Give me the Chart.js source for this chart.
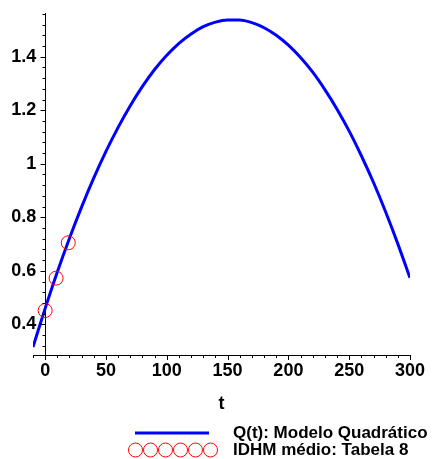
<!DOCTYPE html>
<html>
<head>
<meta charset="utf-8">
<style>
  html, body { margin: 0; padding: 0; background: #ffffff; }
  #wrap { width: 432px; height: 459px; position: relative; }
  canvas { display: block; }
</style>
<script src="https://cdn.jsdelivr.net/npm/chart.js@4.4.1/dist/chart.umd.min.js"></script>
</head>
<body>
<div id="wrap"><canvas id="chart" width="432" height="459"></canvas></div>
<script>
// Quadratic model Q(t), sampled every 10 units of t
const curveT = [-10, 0, 10, 20, 30, 40, 50, 60, 70, 80, 90, 100, 110, 120, 130, 140, 150,
                160, 170, 180, 190, 200, 210, 220, 230, 240, 250, 260, 270, 280, 290, 300];
const curveQ = [0.316, 0.460, 0.596, 0.722, 0.839, 0.947, 1.046, 1.136, 1.217, 1.289, 1.352,
                1.405, 1.450, 1.485, 1.512, 1.529, 1.537, 1.537, 1.527, 1.508, 1.480, 1.443,
                1.397, 1.342, 1.277, 1.204, 1.122, 1.030, 0.930, 0.820, 0.701, 0.574];

// Observed mean IDHM (Tabela 8)
const idhmT = [0, 9, 19];
const idhmValues = [0.452, 0.573, 0.705];

// Axis ticks
const xMajorTicks = [0, 50, 100, 150, 200, 250, 300];
const xMinorStep = 10;
const yMajorTicks = [0.4, 0.6, 0.8, 1, 1.2, 1.4];
const yMinorStep = 0.04;

const seriesLabels = ['Q(t): Modelo Quadrático', 'IDHM médio: Tabela 8'];
const xTitle = 't';

const FONT = "'Liberation Sans', Arial, Helvetica, sans-serif";
const BLUE = '#0000ff';
const RED = '#ff0000';

const isMajor = (v, list) => list.some(m => Math.abs(m - v) < 1e-6);

// Outward tick marks for both axes (long on labelled values, short otherwise)
const tickMarksPlugin = {
  id: 'tickMarks',
  afterDraw(chart) {
    const ctx = chart.ctx;
    const xs = chart.scales.x, ys = chart.scales.y;
    const axisY = xs.top;                      // x-axis line
    const axisX = xs.getPixelForValue(0);      // y-axis line
    ctx.save();
    ctx.strokeStyle = '#000000';
    ctx.lineWidth = 1;
    ctx.beginPath();
    xs.ticks.forEach(t => {
      const px = Math.round(xs.getPixelForValue(t.value)) + 0.5;
      const len = isMajor(t.value, xMajorTicks) ? 5 : 3;
      ctx.moveTo(px, axisY);
      ctx.lineTo(px, axisY + len);
    });
    ys.ticks.forEach(t => {
      const py = Math.round(ys.getPixelForValue(t.value)) + 0.5;
      const len = isMajor(t.value, yMajorTicks) ? 5 : 3;
      ctx.moveTo(Math.round(axisX) + 0.5, py);
      ctx.lineTo(Math.round(axisX) + 0.5 - len, py);
    });
    ctx.stroke();
    ctx.restore();
  }
};

// Legend drawn below the axis title: line sample / row of circles + label
const legendPlugin = {
  id: 'stackedLegend',
  afterDraw(chart) {
    const ctx = chart.ctx;
    const ds = chart.data.datasets;
    const textX = 233;
    const rows = [433, 450];
    ctx.save();
    ctx.font = 'bold 17px ' + FONT;
    ctx.textBaseline = 'middle';
    ctx.textAlign = 'left';
    ctx.fillStyle = '#000000';

    // row 1: curve sample
    ctx.strokeStyle = ds[0].borderColor;
    ctx.lineWidth = ds[0].borderWidth;
    ctx.beginPath();
    ctx.moveTo(135, rows[0]);
    ctx.lineTo(209, rows[0]);
    ctx.stroke();
    ctx.fillText(ds[0].label, textX, rows[0]);

    // row 2: chain of circle markers
    ctx.strokeStyle = ds[1].borderColor;
    ctx.lineWidth = ds[1].borderWidth;
    const r = ds[1].pointRadius;
    for (let k = 0; k < 6; k++) {
      ctx.beginPath();
      ctx.arc(135.5 + k * 15, rows[1], r, 0, Math.PI * 2);
      ctx.stroke();
    }
    ctx.fillText(ds[1].label, textX, rows[1]);
    ctx.restore();
  }
};

new Chart(document.getElementById('chart'), {
  type: 'line',
  data: {
    datasets: [
      {
        label: seriesLabels[0],
        data: curveT.map((t, i) => ({ x: t, y: curveQ[i] })),
        borderColor: BLUE,
        borderWidth: 3,
        pointRadius: 0,
        fill: false,
        cubicInterpolationMode: 'monotone',
        order: 2
      },
      {
        label: seriesLabels[1],
        data: idhmT.map((t, i) => ({ x: t, y: idhmValues[i] })),
        showLine: false,
        borderColor: RED,
        backgroundColor: 'rgba(0,0,0,0)',
        borderWidth: 1,
        pointRadius: 7,
        pointHoverRadius: 7,
        pointStyle: 'circle',
        order: 1
      }
    ]
  },
  options: {
    responsive: false,
    animation: false,
    devicePixelRatio: 1,
    layout: { padding: { left: 33, right: 22, top: 11, bottom: 44 } },
    plugins: {
      legend: { display: false },
      tooltip: { enabled: false }
    },
    scales: {
      x: {
        type: 'linear',
        position: 'bottom',
        min: -10,
        max: 300,
        border: { display: true, color: '#000000', width: 1 },
        grid: { display: false, drawOnChartArea: false, drawTicks: false },
        afterBuildTicks(scale) {
          const ticks = [];
          for (let v = -10; v <= 300; v += xMinorStep) ticks.push({ value: v });
          scale.ticks = ticks;
        },
        ticks: {
          autoSkip: false,
          maxRotation: 0,
          padding: 5,
          color: '#000000',
          font: { family: FONT, size: 18, weight: 'bold' },
          callback: v => (isMajor(v, xMajorTicks) ? String(v) : '')
        },
        title: {
          display: true,
          text: xTitle,
          color: '#000000',
          font: { family: FONT, size: 18, weight: 'bold' },
          padding: { top: 0, bottom: 0 }
        },
        afterFit(scale) { scale.height = 60; }
      },
      y: {
        type: 'linear',
        position: { x: 0 },
        min: 0.286,
        max: 1.56,
        border: { display: true, color: '#000000', width: 1 },
        grid: { display: false, drawOnChartArea: false, drawTicks: false },
        afterBuildTicks(scale) {
          const ticks = [];
          for (let k = 8; k <= 39; k++) ticks.push({ value: Math.round(k * yMinorStep * 100) / 100 });
          scale.ticks = ticks;
        },
        ticks: {
          autoSkip: false,
          color: '#000000',
          font: { family: FONT, size: 18, weight: 'bold' },
          // a trailing en space keeps the right-aligned labels clear of the tick marks
          callback: v => (isMajor(v, yMajorTicks) ? String(Number(v.toFixed(1))) + '\u2002' : '')
        }
      }
    }
  },
  plugins: [tickMarksPlugin, legendPlugin]
});
</script>
</body>
</html>
